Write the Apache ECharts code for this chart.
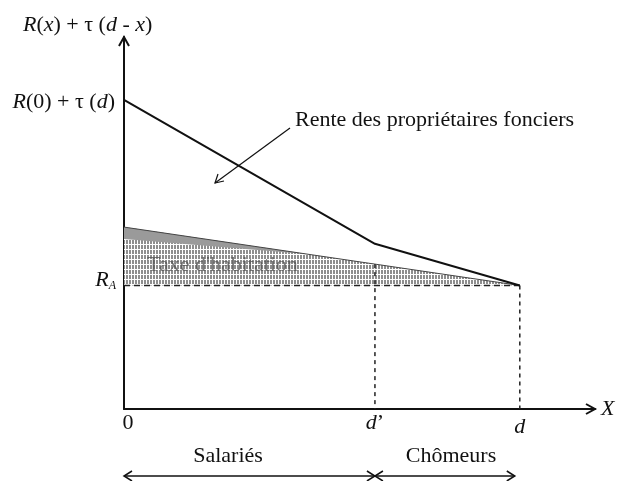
<!DOCTYPE html>
<html><head><meta charset="utf-8">
<script src="https://cdn.jsdelivr.net/npm/echarts@6/dist/echarts.min.js"></script>
<style>html,body{margin:0;padding:0;background:#fff}#c{width:624px;height:481px}</style>
</head><body><div id="c"></div>
<script>
// ---- data (arbitrary schematic units) ----
const X_MAX = 11.9, Y_MAX = 10;
const D_PRIME = 6.34, D = 10;
const xTickValues = [0, D_PRIME, D];
const xTickLabels = ['0', "{i|d}’", '{i|d}'];
const rentCurveX = [0, D_PRIME, D];
const rentCurveY = [8.31, 4.44, 3.32];
const RA = 3.32;
const taxTopX = [0, D];
const taxTopY = [4.89, RA];
const taxBandX = [0, 4.6, 0];
const taxBandBottomLeftY = 4.57;
const groupLabels = ['Salariés', 'Chômeurs'];

const FONT = '"Liberation Serif","DejaVu Serif",serif';
const FS = 22;
const chart = echarts.init(document.getElementById('c'));

// hatch pattern
const pc = document.createElement('canvas'); pc.width = 3; pc.height = 5;
const g = pc.getContext('2d');
g.fillStyle = '#ffffff'; g.fillRect(0, 0, 3, 5);
g.fillStyle = '#8e8e8e'; g.fillRect(0, 0, 2, 4);
const hatch = { image: pc, repeat: 'repeat' };

const taxTopAt = x => taxTopY[0] + (taxTopY[1] - taxTopY[0]) * (x - taxTopX[0]) / (taxTopX[1] - taxTopX[0]);

function poly(xs, ys, fill) {
  return {
    type: 'custom', silent: true, z: 1,
    data: [0],
    renderItem: (p, api) => ({
      type: 'polygon',
      shape: { points: xs.map((x, i) => api.coord([x, ys[i]])) },
      style: { fill: fill, stroke: null }
    })
  };
}

const option = {
  animation: false,
  grid: { left: 124, right: 29, top: 37, bottom: 72 },
  xAxis: { type: 'value', min: 0, max: X_MAX, axisLine: { show: true, lineStyle: { color: '#111', width: 2 } },
    axisTick: { show: false }, axisLabel: { show: false }, splitLine: { show: false } },
  yAxis: { type: 'value', min: 0, max: Y_MAX, axisLine: { show: true, lineStyle: { color: '#111', width: 2 } },
    axisTick: { show: false }, axisLabel: { show: false }, splitLine: { show: false } },
  series: [
    poly([0, D, 0], [taxTopY[0], RA, RA], hatch),
    poly(taxBandX, [taxTopY[0], taxTopAt(taxBandX[1]), taxBandBottomLeftY], '#9a9a9a'),
    { type: 'line', data: taxTopX.map((x, i) => [x, taxTopY[i]]), symbol: 'none', z: 3,
      lineStyle: { color: '#444', width: 1 } },
    { type: 'line', data: [[0, RA], [D, RA]], symbol: 'none', z: 3,
      lineStyle: { color: '#222', width: 1.5, type: [6, 4] } },
    { type: 'line', data: [[D_PRIME, taxTopAt(D_PRIME)], [D_PRIME, 0]], symbol: 'none', z: 3,
      lineStyle: { color: '#222', width: 1.5, type: [4, 4] } },
    { type: 'line', data: [[D, RA], [D, 0]], symbol: 'none', z: 3,
      lineStyle: { color: '#222', width: 1.5, type: [4, 4] } },
    { type: 'line', data: rentCurveX.map((x, i) => [x, rentCurveY[i]]), symbol: 'none', z: 4,
      lineStyle: { color: '#111', width: 2 } }
  ]
};
chart.setOption(option);

const px = (x, y) => chart.convertToPixel({ gridIndex: 0 }, [x, y]);
const rich = {
  i: { fontStyle: 'italic', fontFamily: FONT, fontSize: FS, fill: '#111' },
  s: { fontStyle: 'italic', fontFamily: FONT, fontSize: 12, fill: '#111', padding: [10, 0, 0, 0] }
};
function txt(text, x, y, align, color) {
  return {
    type: 'text', x: x, y: y, z: 10,
    style: { text: text, rich: rich, fontFamily: FONT, fontSize: FS, fill: color || '#111', align: align || 'left', verticalAlign: 'middle' }
  };
}
function pl(points, w) {
  return { type: 'polyline', z: 10, shape: { points: points }, style: { stroke: '#111', lineWidth: w || 1.5, fill: null } };
}

const o = px(0, 0), yTip = px(0, Y_MAX), xTip = px(X_MAX, 0);
const pD = px(D, 0), pDp = px(D_PRIME, 0);
const graphics = [];
// axis arrow heads
graphics.push(pl([[yTip[0] - 5, yTip[1] + 9], [yTip[0], yTip[1]], [yTip[0] + 5, yTip[1] + 9]], 2));
graphics.push(pl([[xTip[0] - 9, xTip[1] - 5], [xTip[0], xTip[1]], [xTip[0] - 9, xTip[1] + 5]], 2));
// axis titles
graphics.push(txt('{i|R}({i|x}) + τ ({i|d} - {i|x})', 23, 25, 'left'));
graphics.push(txt('{i|X}', xTip[0] + 6, xTip[1], 'left'));
// y labels
graphics.push(txt('{i|R}(0) + τ ({i|d})', o[0] - 9, px(0, rentCurveY[0])[1] + 2, 'right'));
graphics.push(txt('{i|R}{s|A}', o[0] - 8, px(0, RA)[1] - 5, 'right'));
// x tick labels
xTickValues.forEach((v, i) => {
  const p = px(v, 0);
  graphics.push(txt(xTickLabels[i], p[0] + (i === 0 ? 4 : 0), p[1] + (i === 2 ? 18 : 14), 'center'));
});
// group labels and arrows
const arrowY = 476;
const chEnd = pD[0] - 5;
graphics.push(txt(groupLabels[0], 228, 456, 'center'));
graphics.push(txt(groupLabels[1], 451, 456, 'center'));
graphics.push(pl([[o[0], arrowY], [pDp[0], arrowY]]));
graphics.push(pl([[pDp[0], arrowY], [chEnd, arrowY]]));
[[o[0], 1], [pDp[0], -1], [pDp[0], 1], [chEnd, -1]].forEach(([x, s]) => {
  graphics.push(pl([[x + 8 * s, arrowY - 5], [x, arrowY], [x + 8 * s, arrowY + 5]]));
});
// annotation
graphics.push(txt('Rente des propriétaires fonciers', 295, 120, 'left'));
graphics.push(pl([[290, 128], [215, 183]], 1.2));
graphics.push(pl([[218, 174], [215, 183], [224, 181]], 1.2));
// tax label
graphics.push(txt("Taxe d'habitation", 147, 265, 'left', 'rgba(80,80,80,0.75)'));

chart.setOption({ graphic: graphics });
</script>
</body></html>
